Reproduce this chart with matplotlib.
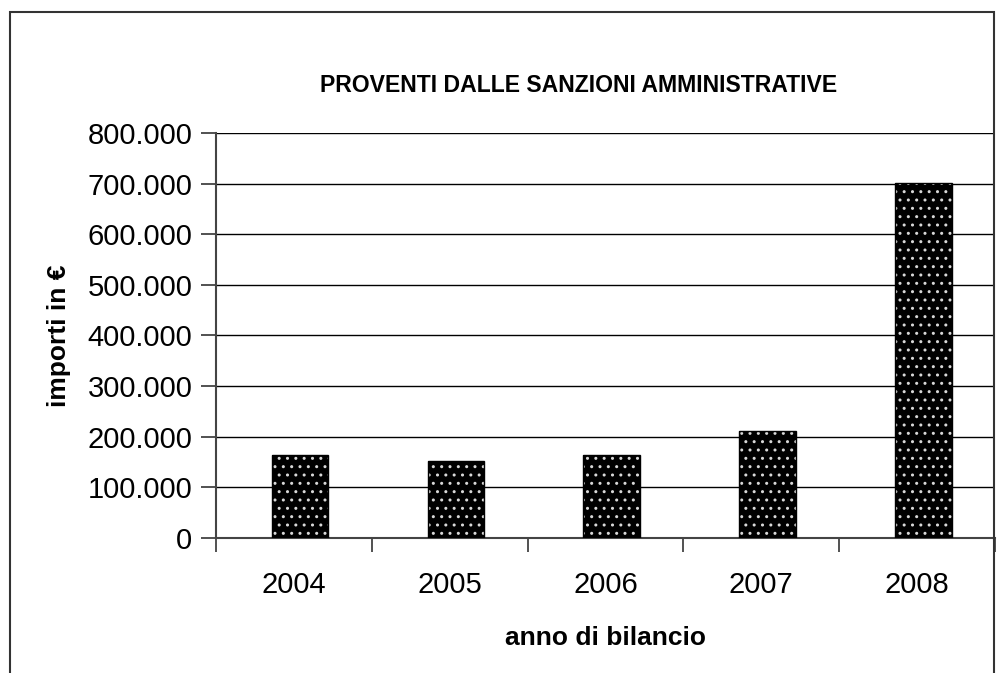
import matplotlib
matplotlib.use("Agg")
import matplotlib.pyplot as plt
from matplotlib.patches import Rectangle
from matplotlib.ticker import FixedLocator, FuncFormatter

years = ["2004", "2005", "2006", "2007", "2008"]
values = [164500, 151500, 163700, 211000, 701000]
yticks = [0, 100000, 200000, 300000, 400000, 500000, 600000, 700000, 800000]

plt.rcParams['font.family'] = ['Liberation Sans', 'DejaVu Sans']
plt.rcParams['hatch.linewidth'] = 1.0

fig = plt.figure(figsize=(10, 6.73), dpi=100)
ax = fig.add_axes([0.216, 0.2006, 0.779, 0.6018])

xs = [i + 0.04 for i in range(len(years))]
ax.bar(xs, values, width=0.363, color='black', edgecolor='#d8d8d8',
       hatch='..', linewidth=0, zorder=3)
ax.bar(xs, values, width=0.363, color='none', edgecolor='black',
       linewidth=1.0, zorder=4)

ax.set_xlim(-0.5, len(years) - 0.5)
ax.set_ylim(0, 800000)
ax.set_yticks(yticks)
ax.yaxis.set_major_formatter(FuncFormatter(lambda v, p: f"{int(v):,}".replace(",", ".")))
ax.grid(axis='y', color='black', linewidth=1.0, zorder=1)

ax.xaxis.set_major_locator(FixedLocator(range(len(years))))
ax.set_xticklabels(years)
ax.xaxis.set_minor_locator(FixedLocator([i - 0.5 for i in range(len(years) + 1)]))
ax.tick_params(axis='x', which='major', length=0, pad=24, labelsize=21)
ax.tick_params(axis='x', which='minor', length=10, width=1.2, color='#333333')
ax.tick_params(axis='y', length=11, width=1.2, color='#333333', labelsize=21, pad=6)

for s in ['top', 'right']:
    ax.spines[s].set_visible(False)
ax.spines['left'].set_color('#444444')
ax.spines['left'].set_linewidth(1.5)
ax.spines['bottom'].set_color('#444444')
ax.spines['bottom'].set_linewidth(1.5)

ax.set_xlabel("anno di bilancio", fontsize=19, fontweight='bold', labelpad=19)
ax.set_ylabel("importi in €", fontsize=19, fontweight='bold', labelpad=12)
fig.text(0.579, 1 - 86 / 673, "PROVENTI DALLE SANZIONI AMMINISTRATIVE",
         fontsize=16.6, fontweight='bold', ha='center', va='center')

fig.patches.append(Rectangle((0.010, -0.05), 0.984, 1.032, transform=fig.transFigure,
                             fill=False, edgecolor='#333333', linewidth=1.5))

fig.savefig("out.png", dpi=100)
